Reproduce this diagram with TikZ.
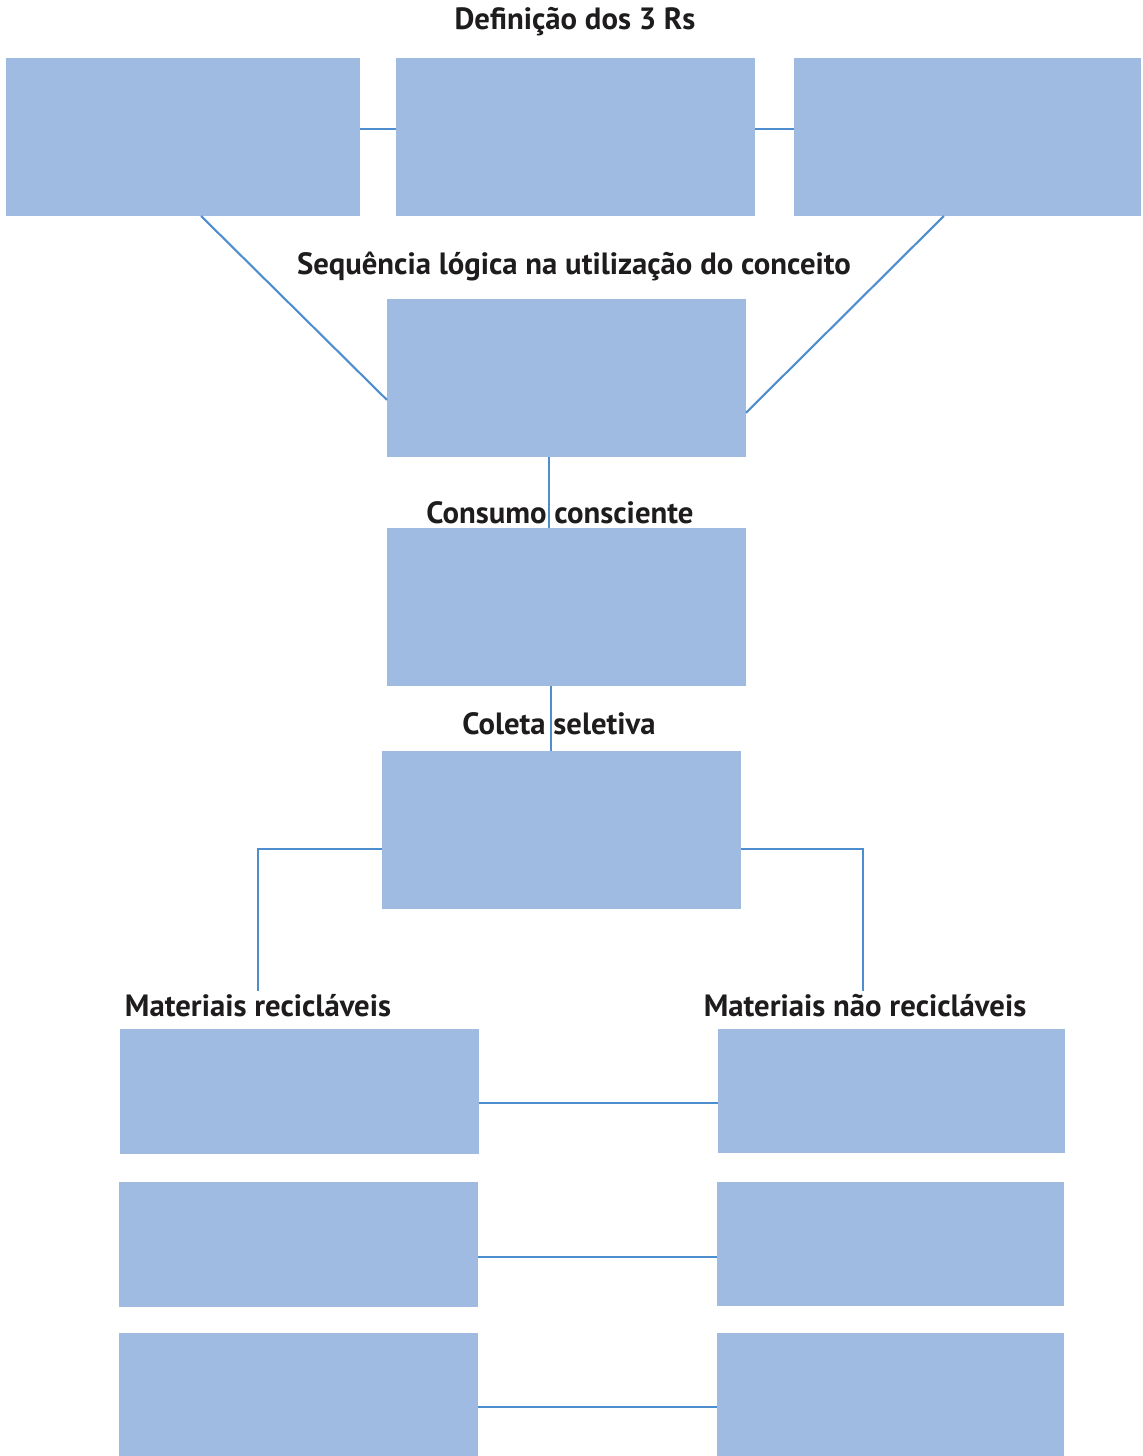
\documentclass[tikz,border=0pt]{standalone}
\usepackage{fontspec}
\setmainfont{PT Sans}
\usepackage{tikz}
\usetikzlibrary{calc}
\usepackage{xcolor}
\definecolor{boxblue}{RGB}{160, 187, 226}
\definecolor{linkblue}{RGB}{79, 142, 206}
\definecolor{textdark}{RGB}{30, 28, 28}
\tikzset{
    box/.style 2 args={
        rectangle,
        fill=boxblue,
        draw=none,
        inner sep=0pt,
        outer sep=0pt,
        minimum width=#1*0.02cm,
        minimum height=#2*0.02cm
    },
    title/.style={
        anchor=base,
        inner sep=0pt,
        text=textdark,
        font=\fontsize{17.5}{20}\selectfont\bfseries
    },
    link/.style={
        draw=linkblue,
        line width=1.2pt
    }
}

\begin{document}
\begin{tikzpicture}[x=0.02cm, y=-0.02cm]

\useasboundingbox (0, 0) rectangle (1142, 1456);
\clip (0, 0) rectangle (1142, 1456);

% === BOXES ===

% Three Rs
\node[box={354}{158}] (rleft) at (183, 137) {};
\node[box={359}{158}] (rmid) at (575.5, 137) {};
\node[box={347}{158}] (rright) at (967.5, 137) {};

% Central column
\node[box={359}{158}] (sequencia) at (566.5, 378) {};
\node[box={359}{158}] (consumo) at (566.5, 607) {};
\node[box={359}{158}] (coleta) at (561.5, 830) {};

% Recyclable / non recyclable rows
\node[box={359}{125}] (recA) at (299.5, 1091.5) {};
\node[box={359}{125}] (recB) at (298.5, 1244.5) {};
\node[box={359}{125}] (recC) at (298.5, 1395.5) {};
\node[box={347}{124}] (naoA) at (891.5, 1091) {};
\node[box={347}{124}] (naoB) at (890.5, 1244) {};
\node[box={347}{124}] (naoC) at (890.5, 1395) {};

% === TITLES ===

\node[title] (tRs) at (575, 30) {Definição dos 3 Rs};
\node[title] (tSeq) at (574, 275) {Sequência lógica na utilização do conceito};
\node[title] (tCons) at (560, 523) {Consumo consciente};
\node[title] (tCol) at (559, 734) {Coleta seletiva};
\node[title] (tRec) at (258, 1016) {Materiais recicláveis};
\node[title] (tNao) at (865, 1016) {Materiais não recicláveis};

% === LINKS ===

% Between the three Rs
\draw[link] ($(rleft.north east)!0.45!(rleft.south east)$) -- ($(rmid.north west)!0.45!(rmid.south west)$);
\draw[link] ($(rmid.north east)!0.45!(rmid.south east)$) -- ($(rright.north west)!0.45!(rright.south west)$);

% Diagonals down to the sequence box
\draw[link] ($(rleft.south west)!0.551!(rleft.south east)$) -- ($(sequencia.north west)!0.639!(sequencia.south west)$);
\draw[link] ($(rright.south west)!0.432!(rright.south east)$) -- ($(sequencia.north east)!0.72!(sequencia.south east)$);

% Central column
\draw[link] ($(sequencia.south west)!0.45!(sequencia.south east)$) coordinate (s1) -- (s1 |- consumo.north);
\draw[link] ($(consumo.south west)!0.457!(consumo.south east)$) coordinate (s2) -- (s2 |- coleta.north);

% Branches from the collection box
\coordinate (cl) at (258, 991);
\coordinate (cr) at (863, 991);
\draw[link] ($(coleta.north west)!0.62!(coleta.south west)$) -| (cl);
\draw[link] ($(coleta.north east)!0.62!(coleta.south east)$) -| (cr);

% Rows
\draw[link] (recA.east |- 0, 1103) -- (naoA.west |- 0, 1103);
\draw[link] (recB.east |- 0, 1257) -- (naoB.west |- 0, 1257);
\draw[link] (recC.east |- 0, 1407) -- (naoC.west |- 0, 1407);

\end{tikzpicture}
\end{document}
